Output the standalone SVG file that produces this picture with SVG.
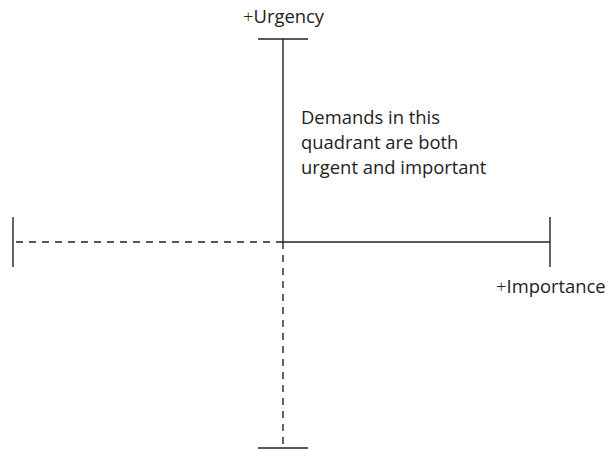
<svg xmlns="http://www.w3.org/2000/svg" width="608" height="450" viewBox="0 0 608 450">
<style>
.ax{stroke:#222;stroke-width:1.4;fill:none}
.dash{stroke-dasharray:7,6}
text{font-family:"Open Sans","Liberation Sans",sans-serif;font-size:18.4px;fill:#222}
.pl{font-weight:300}
</style>
<rect width="608" height="450" fill="#fff"/>
<g id="connectors">
<line class="ax" x1="283" y1="39" x2="283" y2="242"/>
<line class="ax" x1="283" y1="242" x2="550" y2="242"/>
<line class="ax dash" x1="283" y1="242" x2="14" y2="242"/>
<line class="ax dash" x1="283" y1="242" x2="283" y2="448"/>
<line class="ax" x1="258" y1="39" x2="308" y2="39"/>
<line class="ax" x1="550" y1="217" x2="550" y2="267"/>
<line class="ax" x1="13" y1="217" x2="13" y2="267"/>
<line class="ax" x1="258" y1="448" x2="308" y2="448"/>
</g>
<g id="urgency"><text x="243" y="23"><tspan class="pl">+</tspan>Urgency</text></g>
<g id="importance"><text x="496" y="293"><tspan class="pl">+</tspan>Importance</text></g>
<g id="note">
<text x="301" y="124">Demands in this</text>
<text x="301" y="149">quadrant are both</text>
<text x="301" y="174">urgent and important</text>
</g>
</svg>
